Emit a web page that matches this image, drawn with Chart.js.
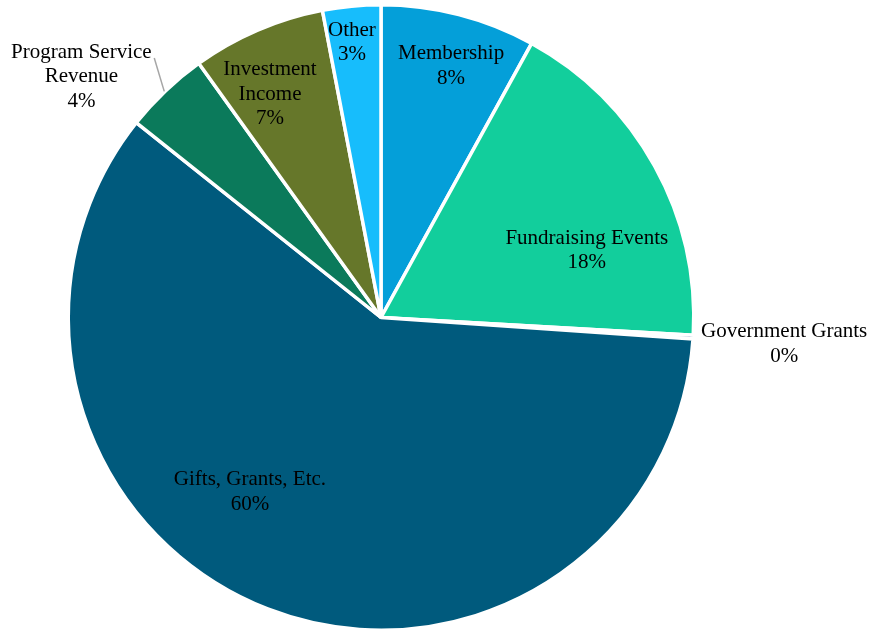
<!DOCTYPE html>
<html>
<head>
<meta charset="utf-8">
<script src="https://cdn.jsdelivr.net/npm/chart.js@4"></script>
<style>
  html, body { margin: 0; padding: 0; background: #fff; }
  #wrap { width: 869px; height: 633px; }
</style>
</head>
<body>
<div id="wrap"><canvas id="revenuePie" width="869" height="633"></canvas></div>
<script>
// revenue share by source, clockwise from 12 o'clock
const categories = [
  "Membership",
  "Fundraising Events",
  "Government Grants",
  "Gifts, Grants, Etc.",
  "Program Service Revenue",
  "Investment Income",
  "Other",
];
const shares = [8.0, 17.9, 0.2, 59.6, 4.4, 6.9, 3.0];
const sliceColors = ["#049fd9", "#12ce9c", "#2f5597", "#005a7d", "#0b7a5b", "#66772a", "#17bdfc"];

// how each label is broken into lines
const labelLines = [
  ["Membership"],
  ["Fundraising Events"],
  ["Government Grants"],
  ["Gifts, Grants, Etc."],
  ["Program Service", "Revenue"],
  ["Investment", "Income"],
  ["Other"],
];

// label centre, as a fraction of the radius from the pie centre
const labelSpots = [
  [0.224, -0.804],
  [0.658, -0.214],
  [1.289, 0.084],
  [-0.419, 0.558],
  [-0.958, -0.77],
  [-0.355, -0.714],
  [-0.093, -0.879],
];

const pieLabels = {
  id: "pieLabels",
  afterDatasetsDraw(chart) {
    const ctx = chart.ctx;
    const meta = chart.getDatasetMeta(0);
    const total = shares.reduce((a, b) => a + b, 0);
    const lineH = 24.5;
    ctx.save();
    ctx.font = "21px 'Liberation Serif', 'Times New Roman', serif";
    ctx.fillStyle = "#000";
    ctx.textAlign = "center";
    ctx.textBaseline = "middle";
    meta.data.forEach((arc, i) => {
      const r = arc.outerRadius;
      const cx = arc.x + labelSpots[i][0] * r;
      const cy = arc.y + labelSpots[i][1] * r;
      const lines = labelLines[i].concat([Math.round((shares[i] / total) * 100) + "%"]);
      const top = cy - ((lines.length - 1) * lineH) / 2;
      lines.forEach((t, k) => ctx.fillText(t, cx, top + k * lineH));

      // leader line for the small outside label
      if (i === 4) {
        ctx.strokeStyle = "#a6a6a6";
        ctx.lineWidth = 1.5;
        ctx.beginPath();
        ctx.moveTo(arc.x - 0.725 * r, arc.y - 0.83 * r);
        ctx.lineTo(arc.x - 0.693 * r, arc.y - 0.723 * r);
        ctx.stroke();
      }
    });
    ctx.restore();
  },
};

new Chart(document.getElementById("revenuePie"), {
  type: "pie",
  data: {
    labels: categories,
    datasets: [
      {
        data: shares,
        backgroundColor: sliceColors,
        borderColor: "#ffffff",
        borderWidth: 3.5,
      },
    ],
  },
  options: {
    responsive: false,
    animation: false,
    layout: { padding: { left: 65, right: 172, top: 3, bottom: 1 } },
    plugins: {
      legend: { display: false },
      tooltip: { enabled: false },
    },
  },
  plugins: [pieLabels],
});
</script>
</body>
</html>
